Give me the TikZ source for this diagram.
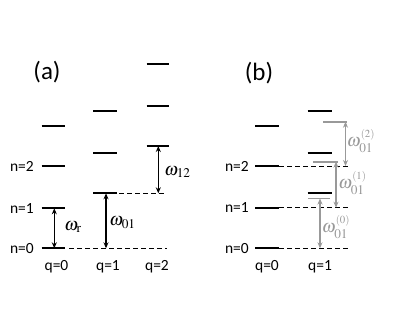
\documentclass[tikz,border=0pt]{standalone}
\usepackage{mathptmx}
\usepackage[no-math]{fontspec}
\setmainfont{Carlito}
\usetikzlibrary{arrows.meta}
\definecolor{lvlgray}{HTML}{999999}
\tikzset{
  level/.style={line width=2.2pt,black},
  glevel/.style={line width=1.7pt,lvlgray},
  dline/.style={line width=1pt,dash pattern=on 4.5pt off 3.5pt},
  tr/.style={line width=1.1pt,{Stealth[length=6pt,width=5pt]}-{Stealth[length=6pt,width=5pt]}},
  gtr/.style={tr,lvlgray},
  lab/.style={font=\fontsize{15.5}{17}\selectfont,inner sep=0pt},
  panel/.style={font=\fontsize{25}{28}\selectfont,inner sep=0pt},
  om/.style={font=\fontsize{18}{20}\selectfont,inner sep=0pt},
  gom/.style={om,text=lvlgray},
}
\newcommand{\wsup}[1]{\omega_{01}^{\scriptscriptstyle(#1)}}
\begin{document}
\begin{tikzpicture}[x=1pt,y=-1pt]
\useasboundingbox (0,0) rectangle (415,321);
% ---------- panel (a)
\node[panel] (pa) at (47,72.5) {(a)};
% q=0 levels
\foreach \n/\y in {0/248.3,1/208.3,2/166,3/126}{
  \coordinate (a0l\n) at (41.7,\y); \coordinate (a0r\n) at (65,\y);
  \draw[level] (a0l\n) -- (a0r\n);}
% q=1 levels
\foreach \n/\y in {0/193.3,1/153.3,2/111}{
  \coordinate (a1l\n) at (93.3,\y); \coordinate (a1r\n) at (117.3,\y);
  \draw[level] (a1l\n) -- (a1r\n);}
% q=2 levels
\foreach \n/\y in {0/146,1/105.7,2/64}{
  \coordinate (a2l\n) at (146.7,\y); \coordinate (a2r\n) at (169.3,\y);
  \draw[level] (a2l\n) -- (a2r\n);}
\coordinate (ad0) at (167,248.3);
\coordinate (ad1) at (167,193.3);
\draw[dline] ([xshift=4pt]a0r0) -- (ad0);
\draw[dline] ([xshift=2pt]a1r0) -- (ad1);
% arrows
\coordinate (ar1) at (54.3,208.3); \coordinate (ar0) at (54.3,248.3);
\coordinate (ab1) at (106,193.3); \coordinate (ab0) at (106,248.3);
\coordinate (ac1) at (158.3,146); \coordinate (ac0) at (158.3,193.3);
\draw[tr] (ar1) -- (ar0);
\draw[tr] (ab1) -- (ab0);
\draw[tr] (ac1) -- (ac0);
\node[om] (wr) at (73,227) {$\omega_{\mathrm{r}}$};
\node[om] (w01) at (122.5,223) {$\omega_{01}$};
\node[om] (w12) at (177.5,172) {$\omega_{12}$};
% n labels
\node[lab,anchor=east] (an0) at (34,248.3) {n=0};
\node[lab,anchor=east] (an1) at (34,208.3) {n=1};
\node[lab,anchor=east] (an2) at (34,166) {n=2};
\node[lab] (aq0) at (56.5,266.5) {q=0};
\node[lab] (aq1) at (108,266.5) {q=1};
\node[lab] (aq2) at (157,266.5) {q=2};
% ---------- panel (b)
\node[panel] (pb) at (259,73) {(b)};
\foreach \n/\y in {0/248.3,1/207.7,2/166,3/126}{
  \coordinate (b0l\n) at (255,\y); \coordinate (b0r\n) at (279.3,\y);
  \draw[level] (b0l\n) -- (b0r\n);}
\foreach \n/\y in {0/193.3,1/153.3,2/111}{
  \coordinate (b1l\n) at (307.7,\y); \coordinate (b1r\n) at (331.5,\y);
  \draw[level] (b1l\n) -- (b1r\n);}
% dashed
\foreach \n in {0,1,2}{
  \coordinate (bd\n) at (350,0 |- b0r\n);
  \draw[dline] (b0r\n) -- (bd\n);}
% gray shifted levels
\coordinate (g0l) at (308,198.5); \coordinate (g0r) at (330,198.5);
\coordinate (g1l) at (313,161.7); \coordinate (g1r) at (337.5,161.7);
\coordinate (g2l) at (323,121.7); \coordinate (g2r) at (346.5,121.7);
\draw[glevel] (g0l) -- (g0r);
\draw[glevel] (g1l) -- (g1r);
\draw[glevel] (g2l) -- (g2r);
% gray arrows
\coordinate (gt0) at (320,198.5); \coordinate (gb0) at (320,248.3);
\coordinate (gt1) at (336,161.7); \coordinate (gb1) at (336,207.7);
\coordinate (gt2) at (345.5,121.7); \coordinate (gb2) at (345.5,166);
\draw[gtr] (gt0) -- (gb0);
\draw[gtr] (gt1) -- (gb1);
\draw[gtr] (gt2) -- (gb2);
\node[gom] (w0) at (336,227) {$\wsup{0}$};
\node[gom] (w1) at (352.5,183) {$\wsup{1}$};
\node[gom] (w2) at (361,141) {$\wsup{2}$};
\node[lab,anchor=east] (bn0) at (249,248.3) {n=0};
\node[lab,anchor=east] (bn1) at (249,207.7) {n=1};
\node[lab,anchor=east] (bn2) at (249,166) {n=2};
\node[lab] (bq0) at (267,266.5) {q=0};
\node[lab] (bq1) at (320,266.5) {q=1};
\end{tikzpicture}
\end{document}
